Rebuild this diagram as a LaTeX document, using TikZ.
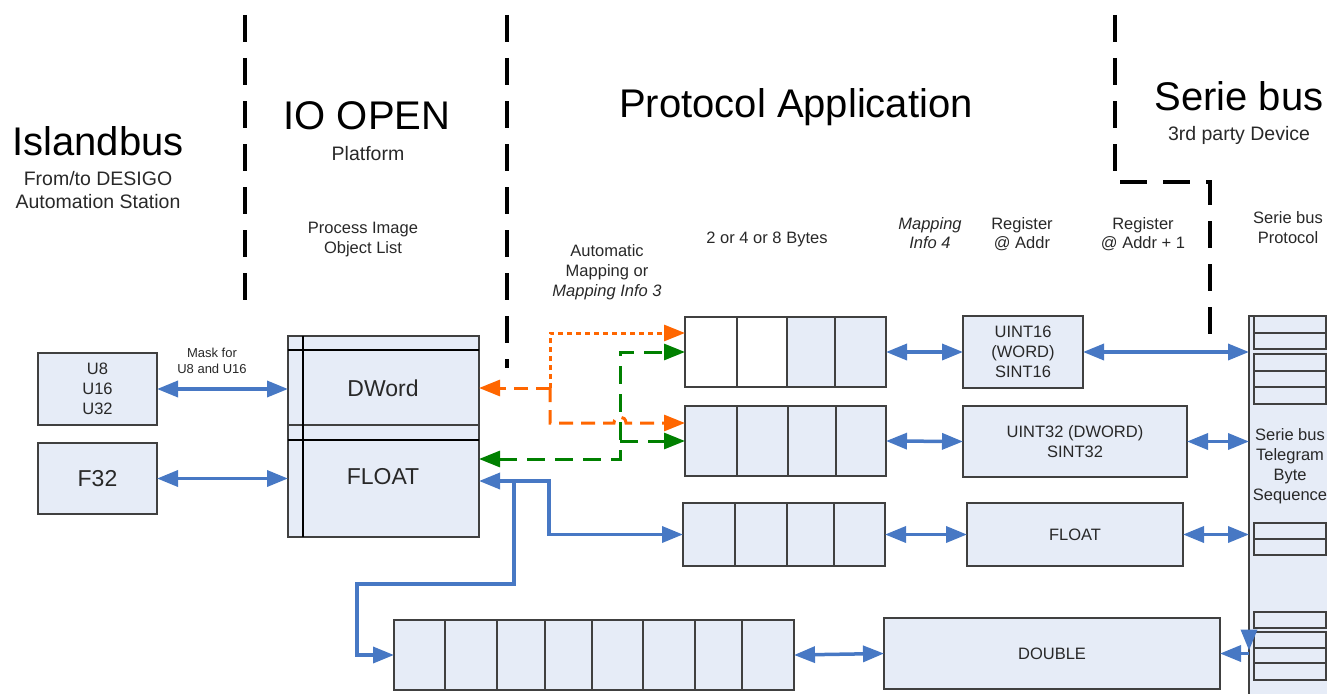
\documentclass[tikz,border=0pt]{standalone}
\usepackage{fontspec}
\setmainfont{Liberation Sans}
\usetikzlibrary{arrows.meta,calc}
\definecolor{boxfill}{RGB}{230,236,247}
\definecolor{boxline}{RGB}{64,64,64}
\definecolor{linkblue}{RGB}{71,120,196}
\definecolor{mapor}{RGB}{255,102,0}
\definecolor{mapgr}{RGB}{0,128,0}
\definecolor{txt}{RGB}{40,40,40}
\begin{document}
\begin{tikzpicture}[x=1pt,y=-1pt,
  >={Triangle[length=21pt,width=16pt]},
  box/.style={draw=boxline, fill=boxfill, line width=1.6pt, inner sep=0pt, outer sep=0pt,
              anchor=north west, text=txt, font=\fontsize{16.5}{20}\selectfont, align=center},
  cell/.style={draw=boxline, line width=1.6pt},
  strip/.style={draw=black, line width=1.2pt},
  link/.style={draw=linkblue, line width=3.5pt},
  mapdot/.style={draw=mapor, line width=3pt, dash pattern=on 5pt off 4pt},
  mapdash/.style={draw=mapor, line width=3pt, dash pattern=on 14pt off 8pt},
  grdash/.style={draw=mapgr, line width=3pt, dash pattern=on 18pt off 10pt},
  secline/.style={draw=black, line width=3.5pt, dash pattern=on 27pt off 16pt},
  title/.style={font=\fontsize{40}{44}\selectfont, text=black, inner sep=0pt, anchor=base},
  sub/.style={font=\fontsize{19.5}{23}\selectfont, text=txt, inner sep=0pt, anchor=base},
  lbl/.style={font=\fontsize{16.5}{20}\selectfont, text=txt, inner sep=0pt, anchor=base},
  lbli/.style={lbl, font=\fontsize{16.5}{20}\selectfont\itshape},
  tiny/.style={font=\fontsize{13}{16}\selectfont, text=txt, inner sep=0pt, anchor=base},
  big/.style={font=\fontsize{23}{27}\selectfont, text=txt, inner sep=0pt}
]
\useasboundingbox (0,0) rectangle (1327,693);
\clip (0,0) rectangle (1327,693);

% ---- section separators
\draw[secline] (245,15) -- (245,302);
\draw[secline] (507,15) -- (507,368);
\draw[secline] (1115,15) -- (1115,182) -- (1210,182) -- (1210,340);

% ---- section titles
\node[title] (tIsl) at (98,155) {Islandbus};
\node[sub] (tIsl1) at (98,185) {From/to DESIGO};
\node[sub] (tIsl2) at (98,208) {Automation Station};
\node[title] (tIO) at (367,129) {IO OPEN};
\node[sub] (tIO1) at (368,160) {Platform};
\node[title] (tPA) at (796,117) {Protocol Application};
\node[title] (tSB) at (1239,110) {Serie bus};
\node[sub] (tSB1) at (1239,140) {3rd party Device};

% ---- column headings
\node[lbl] (hPI1) at (363,233) {Process Image};
\node[lbl] (hPI2) at (363,253) {Object List};
\node[lbl] (hAM1) at (607,256) {Automatic};
\node[lbl] (hAM2) at (607,276) {Mapping or};
\node[lbli] (hAM3) at (607,296) {Mapping Info 3};
\node[lbl] (hBy) at (767,243) {2 or 4 or 8 Bytes};
\node[lbli] (hMI1) at (930,229) {Mapping};
\node[lbli] (hMI2) at (930,248) {Info 4};
\node[lbl] (hR1) at (1022,229) {Register};
\node[lbl] (hR2) at (1022,248) {@ Addr};
\node[lbl] (hR3) at (1143,229) {Register};
\node[lbl] (hR4) at (1143,248) {@ Addr + 1};
\node[lbl] (hSP1) at (1288,223) {Serie bus};
\node[lbl] (hSP2) at (1288,243) {Protocol};
\node[tiny] (hMk1) at (212,357) {Mask for};
\node[tiny] (hMk2) at (212,373) {U8 and U16};

% ---- Islandbus data types
\node[box, minimum width=119pt, minimum height=72pt] (u8) at (38,353) {U8\\U16\\U32};
\node[box, minimum width=119pt, minimum height=71pt, font=\fontsize{23}{27}\selectfont] (f32) at (38,443) {F32};

% ---- process image objects
\node[box, minimum width=191pt, minimum height=89pt] (dword) at (288,336) {};
\node[box, minimum width=191pt, minimum height=112pt] (float) at (288,425) {};
\draw[strip] (288,350) -- (479,350);
\draw[strip] (288,440) -- (479,440);
\draw[strip] (303,336) -- (303,537);
\node[big] (dwordt) at (383,388) {DWord};
\node[big] (floatt) at (383,477) {FLOAT};

% ---- byte rows (first row: two unused bytes left white)
\fill[white] (685,317) rectangle (787,387);
\fill[boxfill] (787,317) rectangle (886,387);
\node[box, fill=none, minimum width=201pt, minimum height=70pt] (r1) at (685,317) {};
\foreach \x in {737,787,835} \draw[cell] (\x,317) -- (\x,387);
\node[box, minimum width=201pt, minimum height=70pt] (r2) at (685,406) {};
\foreach \x in {737,788,836} \draw[cell] (\x,406) -- (\x,476);
\node[box, minimum width=202pt, minimum height=63pt] (r3) at (683,503) {};
\foreach \x in {735,787,834} \draw[cell] (\x,503) -- (\x,566);
\node[box, minimum width=400pt, minimum height=70pt] (r4) at (394,620) {};
\foreach \x in {445,497,545,592,643,695,742} \draw[cell] (\x,620) -- (\x,690);

% ---- registers
\node[box, minimum width=120pt, minimum height=72pt] (reg16) at (963,316) {UINT16\\(WORD)\\SINT16};
\node[box, minimum width=224pt, minimum height=71pt] (reg32) at (963,406) {UINT32 (DWORD)\\SINT32};
\node[box, minimum width=216pt, minimum height=63pt] (regfl) at (967,503) {FLOAT};
\node[box, minimum width=336pt, minimum height=71pt] (regdb) at (884,618) {DOUBLE};

% ---- serie bus telegram
\node[box, minimum width=95pt, minimum height=390pt] (col) at (1249,316) {};
\foreach \a/\b in {316/333,333/349,354/371,371/387,387/404,523/539,539/555,612/628,632/648,648/663,663/680}
  \draw[cell, fill=boxfill] (1254,\a) rectangle (1326,\b);
\node[lbl, anchor=center, align=center] (colt) at (1290,466.5) {Serie bus\\Telegram\\Byte\\Sequence};

% ---- blue data links
\draw[link,<->] (u8.east) -- (u8.east -| dword.west);
\draw[link,<->] (f32.east) -- (f32.east -| float.west);
\draw[link,<->] (r1.east) -- (reg16.west);
\draw[link,<->] (reg16.east) -- (reg16.east -| col.west);
\draw[link,<->] (r2.east) -- (reg32.west);
\draw[link,<->] (reg32.east) -- (reg32.east -| col.west);
\draw[link,<->] (r3.east) -- (regfl.west);
\draw[link,<->] (regfl.east) -- (regfl.east -| col.west);
\draw[link,<->] (r4.east) -- (regdb.west);
\coordinate (dj) at (regdb.east -| col.west);
\draw[link,<-] (regdb.east) -- (dj);
\draw[link,->] ($(dj)+(0,-24)$) -- ($(dj)+(0,-3)$);
\draw[link,<->] (float.east) -- ++(70,0) |- (r3.west);
\coordinate (fj) at ($(float.east)+(35,0)$);
\draw[link,->] (fj) -- ++(0,103) -- (357,584) |- (r4.west);

% ---- orange mapping (DWord)
\coordinate (oj) at (550,388);
\coordinate (o1) at (685,333);
\coordinate (o2) at (685,423);
\draw[mapdash,->] (oj) -- (oj -| dword.east);
\draw[mapdot,->] (oj) |- (o1);
\draw[mapdash,->] (oj) -- (550,423) -- (614,423) .. controls (614,415) and (626,415) .. (626,423) -- (o2);

% ---- green mapping (FLOAT)
\coordinate (gj) at (620,459);
\draw[grdash,<->] (gj -| float.east) -- (gj) |- (r1.west);
\draw[grdash,->] (620,441) -- (r2.west);
\end{tikzpicture}
\end{document}
